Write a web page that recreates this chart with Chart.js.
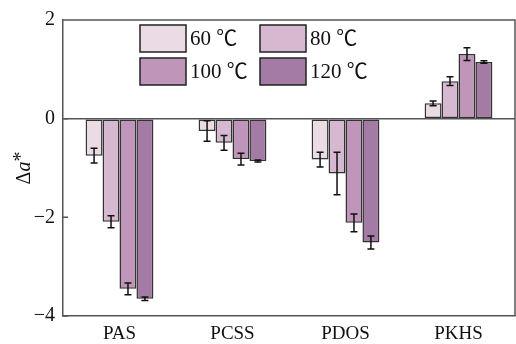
<!DOCTYPE html>
<html>
<head>
<meta charset="utf-8">
<script src="https://cdn.jsdelivr.net/npm/chart.js@4/dist/chart.umd.min.js"></script>
<style>body{margin:0;background:#fff}</style>
</head>
<body>
<canvas id="myChart" width="516" height="344"></canvas>
<script>
const categories = ['PAS', 'PCSS', 'PDOS', 'PKHS'];
const seriesLabels = ['60 ℃', '80 ℃', '100 ℃', '120 ℃'];
const values60 = [-0.75, -0.25, -0.83, 0.31];
const values80 = [-2.09, -0.49, -1.11, 0.76];
const values100 = [-3.45, -0.82, -2.11, 1.31];
const values120 = [-3.65, -0.86, -2.51, 1.15];
const err60 = [0.15, 0.21, 0.15, 0.05];
const err80 = [0.12, 0.15, 0.43, 0.09];
const err100 = [0.12, 0.12, 0.18, 0.13];
const err120 = [0.035, 0.02, 0.13, 0.025];
const yTicks = [2, 0, -2, -4];

const colors = ['#eadbe5', '#d7b8d1', '#bf95ba', '#a47ba5'];
const allValues = [values60, values80, values100, values120];
const allErrs = [err60, err80, err100, err120];
const serif = "'Liberation Serif', 'DejaVu Serif', serif";
const legendFont = "'Liberation Serif', 'Noto Sans CJK SC', serif";
const edge = '#555';

// error bars on top of each bar
const errorBars = {
  id: 'errorBars',
  afterDatasetsDraw(chart) {
    const ctx = chart.ctx;
    const y = chart.scales.y;
    ctx.save();
    ctx.strokeStyle = '#111';
    ctx.lineWidth = 1.5;
    chart.data.datasets.forEach((ds, di) => {
      chart.getDatasetMeta(di).data.forEach((bar, i) => {
        const v = ds.data[i], e = ds.errs[i];
        const y1 = y.getPixelForValue(v + e), y2 = y.getPixelForValue(v - e);
        ctx.beginPath();
        ctx.moveTo(bar.x, y1); ctx.lineTo(bar.x, y2);
        ctx.moveTo(bar.x - 3.5, y1); ctx.lineTo(bar.x + 3.5, y1);
        ctx.moveTo(bar.x - 3.5, y2); ctx.lineTo(bar.x + 3.5, y2);
        ctx.stroke();
      });
    });
    ctx.restore();
  }
};

// box round the plot, inward tick marks, legend and axis title
const decor = {
  id: 'decor',
  afterDraw(chart) {
    const ctx = chart.ctx;
    const a = chart.chartArea;
    const y = chart.scales.y;
    ctx.save();
    ctx.strokeStyle = edge;
    ctx.lineWidth = 1.5;
    ctx.beginPath();
    ctx.moveTo(a.left, a.top); ctx.lineTo(a.right, a.top); ctx.lineTo(a.right, a.bottom);
    yTicks.forEach(t => {
      const py = y.getPixelForValue(t);
      ctx.moveTo(a.left, py); ctx.lineTo(a.left + 5, py);
    });
    ctx.stroke();

    // legend, 2 x 2
    const pos = [[140, 25], [260, 25], [140, 58], [260, 58]];
    ctx.font = '21px ' + legendFont;
    ctx.textBaseline = 'middle';
    chart.data.datasets.forEach((ds, i) => {
      const [bx, by] = pos[i];
      ctx.fillStyle = ds.backgroundColor;
      ctx.fillRect(bx, by, 46, 27);
      ctx.strokeStyle = '#222';
      ctx.strokeRect(bx, by, 46, 27);
      ctx.fillStyle = '#111';
      ctx.fillText(ds.label, bx + 50, by + 14.5);
    });

    // y title: Δa*
    ctx.translate(25, 168);
    ctx.rotate(-Math.PI / 2);
    const p1 = 'Δ', p2 = 'a', p3 = '*';
    ctx.font = '20px ' + serif;
    const w1 = ctx.measureText(p1).width, w3 = ctx.measureText(p3).width;
    ctx.font = 'italic 20px ' + serif;
    const w2 = ctx.measureText(p2).width;
    let x = -(w1 + w2 + w3) / 2;
    ctx.textBaseline = 'middle';
    ctx.font = '20px ' + serif;
    ctx.fillText(p1, x, 0); x += w1;
    ctx.font = 'italic 20px ' + serif;
    ctx.fillText(p2, x, 0); x += w2;
    ctx.font = '20px ' + serif;
    ctx.fillText(p3, x, -3);
    ctx.restore();
  }
};

const ctx = document.getElementById('myChart').getContext('2d');
const myChart = new Chart(ctx, {
  type: 'bar',
  data: {
    labels: categories,
    datasets: seriesLabels.map((label, i) => ({
      label: label,
      data: allValues[i],
      errs: allErrs[i],
      backgroundColor: colors[i],
      borderColor: '#333',
      borderWidth: 1.5,
      borderSkipped: false,
      barPercentage: 1,
      categoryPercentage: 0.6
    }))
  },
  options: {
    responsive: false,
    animation: false,
    devicePixelRatio: 1,
    layout: { padding: { top: 16, right: 1 } },
    plugins: { legend: false, tooltip: false },
    scales: {
      x: {
        grid: { display: false, drawTicks: false },
        border: { color: edge, width: 1.5 },
        ticks: { color: '#111', padding: 7, font: { family: serif, size: 19 } },
        afterFit(s) { s.height = 28; }
      },
      y: {
        min: -4,
        max: 2,
        afterBuildTicks(s) { s.ticks = yTicks.map(v => ({ value: v })); },
        grid: {
          drawTicks: false,
          lineWidth: 1.5,
          color: c => c.tick && c.tick.value === 0 ? edge : 'rgba(0,0,0,0)'
        },
        border: { color: edge, width: 1.5 },
        ticks: {
          color: '#111',
          padding: 8,
          font: { family: serif, size: 20 },
          callback: v => String(v).replace('-', '\u2212')
        },
        afterFit(s) { s.width = 63; }
      }
    }
  },
  plugins: [errorBars, decor]
});
</script>
</body>
</html>
